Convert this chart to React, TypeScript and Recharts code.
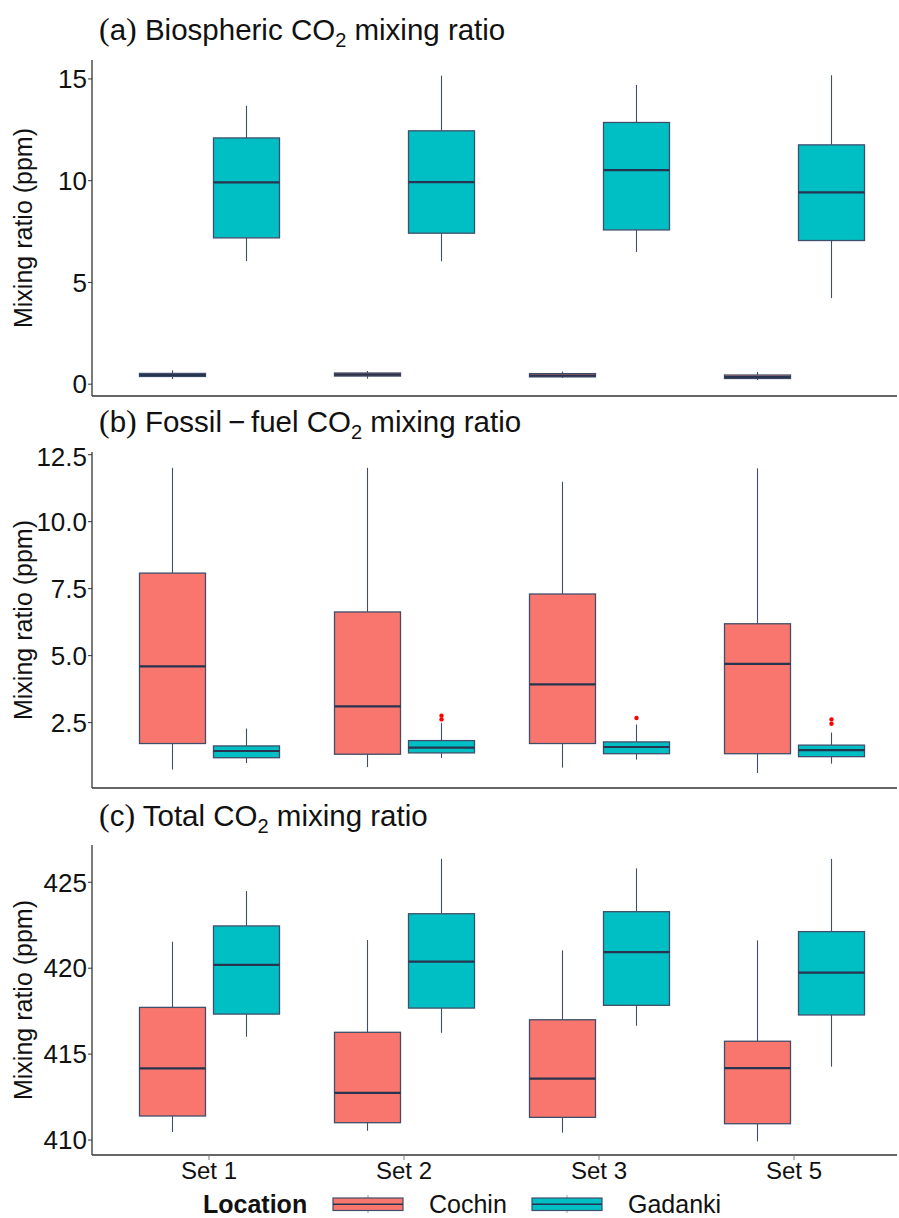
import React from 'react'
import { BarChart, Bar, XAxis, YAxis } from 'recharts'

const SETS = ['Set 1', 'Set 2', 'Set 3', 'Set 5']

// each row: [min, q1, median, q3, max] per set
const bioCochin = [
  [0.25, 0.38, 0.45, 0.53, 0.68],
  [0.27, 0.4, 0.47, 0.55, 0.65],
  [0.31, 0.36, 0.42, 0.52, 0.62],
  [0.2, 0.28, 0.35, 0.45, 0.6],
]
const bioGadanki = [
  [6.05, 7.19, 9.92, 12.1, 13.68],
  [6.04, 7.42, 9.93, 12.45, 15.16],
  [6.5, 7.58, 10.52, 12.86, 14.7],
  [4.23, 7.06, 9.43, 11.76, 15.18],
]
const ffCochin = [
  [0.75, 1.72, 4.6, 8.08, 12.01],
  [0.84, 1.32, 3.11, 6.63, 12.01],
  [0.82, 1.72, 3.93, 7.3, 11.49],
  [0.62, 1.34, 4.69, 6.19, 11.99],
]
const ffGadanki = [
  [0.99, 1.19, 1.44, 1.63, 2.28],
  [1.18, 1.37, 1.57, 1.83, 2.49],
  [1.12, 1.34, 1.59, 1.78, 2.43],
  [0.97, 1.23, 1.47, 1.66, 2.13],
]
const ffGadankiOutliers = [[], [2.62, 2.76], [2.67], [2.46, 2.62]]
const totCochin = [
  [410.47, 411.4, 414.17, 417.72, 421.54],
  [410.54, 411.01, 412.75, 416.27, 421.64],
  [410.43, 411.32, 413.57, 417.0, 421.04],
  [409.92, 410.95, 414.19, 415.75, 421.62],
]
const totGadanki = [
  [416.01, 417.33, 420.19, 422.46, 424.49],
  [416.24, 417.68, 420.38, 423.17, 426.37],
  [416.65, 417.84, 420.94, 423.29, 425.81],
  [414.27, 417.28, 419.74, 422.13, 426.36],
]

const bioTicks = [0, 5, 10, 15]
const ffTicks = [2.5, 5, 7.5, 10, 12.5]
const totTicks = [410, 415, 420, 425]

const COCHIN = '#F8766D'
const GADANKI = '#00BFC4'
const EDGE = '#3F4F6B'
const MEDIAN = '#26344F'
const FONT = '"Liberation Sans", Arial, sans-serif'
const SERIF = '"Liberation Serif", "Times New Roman", serif'

const boxShape = (statsKey: string, outKey: string, fill: string) => (props: any) => {
  const { x, y, width, height, payload } = props
  const s: number[] = payload[statsKey]
  const outs: number[] = payload[outKey] || []
  const top = Math.min(y, y + height)
  const bot = Math.max(y, y + height)
  const span = s[4] - s[0]
  // bar covers [min, max]; place the rest on the same linear scale
  const py = (v: number) => top + ((bot - top) * (s[4] - v)) / span
  const cx = x + width / 2
  return (
    <g>
      <line x1={cx} x2={cx} y1={py(s[4])} y2={py(s[3])} stroke={EDGE} strokeWidth={1.1} />
      <line x1={cx} x2={cx} y1={py(s[1])} y2={py(s[0])} stroke={EDGE} strokeWidth={1.1} />
      <rect x={x} y={py(s[3])} width={width} height={py(s[1]) - py(s[3])} fill={fill} stroke={EDGE} strokeWidth={1.3} />
      <line x1={x} x2={x + width} y1={py(s[2])} y2={py(s[2])} stroke={MEDIAN} strokeWidth={2.2} />
      {outs.map((o, i) => (
        <circle key={i} cx={cx} cy={py(o)} r={2.2} fill="#FF0000" />
      ))}
    </g>
  )
}

interface PanelProps {
  cochin: number[][]
  gadanki: number[][]
  gadankiOut?: number[][]
  domain: [number, number]
  ticks: number[]
  fmt: (v: number) => string
  showLabels: boolean
  height: number
  top: number
}

function BoxPanel({ cochin, gadanki, gadankiOut, domain, ticks, fmt, showLabels, height, top }: PanelProps) {
  const data = SETS.map((set, i) => ({
    set,
    cochin: [cochin[i][0], cochin[i][4]],
    gadanki: [gadanki[i][0], gadanki[i][4]],
    cStats: cochin[i],
    gStats: gadanki[i],
    cOut: [],
    gOut: gadankiOut ? gadankiOut[i] : [],
  }))
  return (
    <div style={{ position: 'absolute', left: 0, top }}>
      <BarChart
        width={899}
        height={height}
        data={data}
        margin={{ top: 10, right: 2, left: 0, bottom: 0 }}
        barSize={66}
        barGap={8}
      >
        <XAxis
          dataKey="set"
          padding={{ left: 19.5, right: 5.5 }}
          height={showLabels ? 30 : 10}
          axisLine={{ stroke: '#333', strokeWidth: 1.3 }}
          tickLine={{ stroke: '#777' }}
          tickSize={5}
          tickMargin={2}
          tick={showLabels ? { fill: '#111', fontSize: 24, fontFamily: FONT } : false}
          interval={0}
        />
        <YAxis
          type="number"
          width={92}
          domain={domain}
          allowDataOverflow
          ticks={ticks}
          tickFormatter={fmt}
          axisLine={{ stroke: '#333', strokeWidth: 1.3 }}
          tickLine={{ stroke: '#333' }}
          tickSize={4}
          tickMargin={1}
          tick={{ fill: '#111', fontSize: 26, fontFamily: FONT }}
          label={{
            content: (p: any) => {
              const vb = p.viewBox
              const cy = vb.y + vb.height / 2
              return (
                <text
                  x={32}
                  y={cy}
                  transform={`rotate(-90, 32, ${cy})`}
                  textAnchor="middle"
                  fontSize={25}
                  fontFamily={FONT}
                  fill="#111"
                >
                  Mixing ratio (ppm)
                </text>
              )
            },
          }}
        />
        <Bar dataKey="cochin" name="Cochin" fill={COCHIN} isAnimationActive={false} shape={boxShape('cStats', 'cOut', COCHIN)} />
        <Bar dataKey="gadanki" name="Gadanki" fill={GADANKI} isAnimationActive={false} shape={boxShape('gStats', 'gOut', GADANKI)} />
      </BarChart>
    </div>
  )
}

function Title({ letter, pre, post, baseline }: { letter: string; pre: string; post: string; baseline: number }) {
  return (
    <svg width={899} height={60} style={{ position: 'absolute', left: 0, top: baseline - 40 }}>
      <text x={99} y={40} fontSize={29.5} fontFamily={FONT} fill="#111">
        <tspan fontFamily={SERIF} fontSize={32}>(</tspan>
        <tspan>{letter}</tspan>
        <tspan fontFamily={SERIF} fontSize={32}>)</tspan>
        <tspan> {pre}CO</tspan>
        <tspan fontSize={20} dy={7}>2</tspan>
        <tspan dy={-7}> {post}</tspan>
      </text>
    </svg>
  )
}

function LegendKey({ x, fill }: { x: number; fill: string }) {
  return (
    <g>
      <line x1={x + 35} x2={x + 35} y1={15} y2={33} stroke="#9AA3B2" strokeWidth={1} />
      <rect x={x} y={18} width={70} height={12.5} fill={fill} stroke={EDGE} strokeWidth={1.2} />
      <line x1={x} x2={x + 70} y1={24.2} y2={24.2} stroke={MEDIAN} strokeWidth={1.6} />
    </g>
  )
}

export default function App() {
  return (
    <div style={{ position: 'absolute', left: 0, top: 0, width: 899, height: 1218, background: '#fff', overflow: 'hidden' }}>
      <Title letter="a" pre="Biospheric " post="mixing ratio" baseline={40} />
      <BoxPanel
        cochin={bioCochin}
        gadanki={bioGadanki}
        domain={[-0.58, 15.93]}
        ticks={bioTicks}
        fmt={(v) => String(v)}
        showLabels={false}
        height={356}
        top={50}
      />
      <Title letter="b" pre={'Fossil\u2009\u2212\u2009fuel '} post="mixing ratio" baseline={432} />
      <BoxPanel
        cochin={ffCochin}
        gadanki={ffGadanki}
        gadankiOut={ffGadankiOutliers}
        domain={[0.06, 12.6]}
        ticks={ffTicks}
        fmt={(v) => v.toFixed(1)}
        showLabels={false}
        height={356}
        top={442}
      />
      <Title letter="c" pre="Total " post="mixing ratio" baseline={826} />
      <BoxPanel
        cochin={totCochin}
        gadanki={totGadanki}
        domain={[409.13, 427.17]}
        ticks={totTicks}
        fmt={(v) => String(v)}
        showLabels={true}
        height={350}
        top={835}
      />
      <svg width={899} height={38} style={{ position: 'absolute', left: 0, top: 1180 }}>
        <text x={203} y={33} fontSize={25} fontWeight="bold" fontFamily={FONT} fill="#111">Location</text>
        <LegendKey x={333} fill={COCHIN} />
        <text x={429} y={33} fontSize={25} fontFamily={FONT} fill="#111">Cochin</text>
        <LegendKey x={532} fill={GADANKI} />
        <text x={628} y={33} fontSize={25} fontFamily={FONT} fill="#111">Gadanki</text>
      </svg>
    </div>
  )
}
